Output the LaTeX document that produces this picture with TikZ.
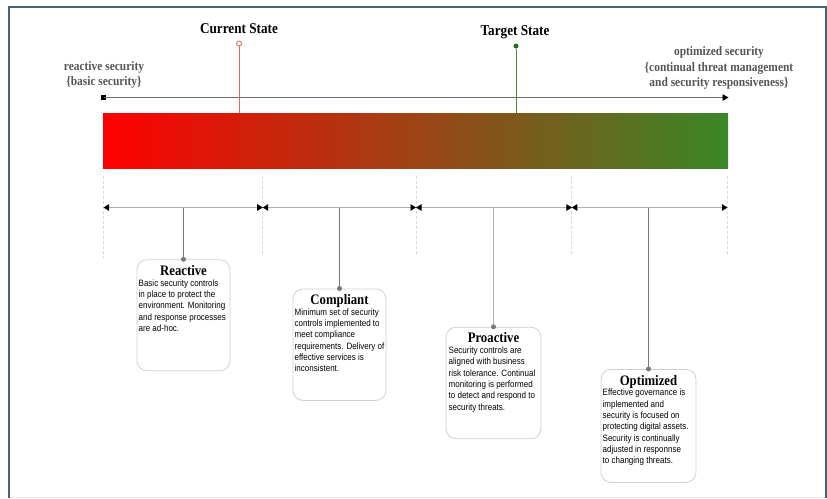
\documentclass[tikz,border=0pt]{standalone}
\usepackage{fontspec}
\setmainfont{Liberation Serif}
\newfontfamily\headfont[FakeStretch=0.88]{Liberation Serif}
\newfontfamily\bodyfont[FakeStretch=0.87]{Liberation Sans}
\usetikzlibrary{arrows.meta}

\newlength{\du}
\setlength{\du}{1\unitlength}

\definecolor{framecolor}{rgb}{0.290196, 0.384314, 0.454902}
\definecolor{barred}{rgb}{1.000000, 0.000000, 0.000000}
\definecolor{bargreen}{rgb}{0.227451, 0.529412, 0.156863}
\definecolor{labelgray}{rgb}{0.333333, 0.333333, 0.333333}
\definecolor{axisgray}{rgb}{0.431373, 0.431373, 0.431373}
\definecolor{spangray}{rgb}{0.690196, 0.690196, 0.690196}
\definecolor{guidegray}{rgb}{0.850980, 0.850980, 0.850980}
\definecolor{boxgray}{rgb}{0.815686, 0.815686, 0.815686}
\definecolor{pingray}{rgb}{0.470588, 0.470588, 0.470588}
\definecolor{currentred}{rgb}{0.941176, 0.376471, 0.376471}
\definecolor{targetgreen}{rgb}{0.286275, 0.560784, 0.231373}
\definecolor{targetdot}{rgb}{0.113725, 0.443137, 0.113725}

\tikzset{
  statetitle/.style={font=\headfont\bfseries\fontsize{15}{18}\selectfont, anchor=base, inner sep=0pt},
  endlabel/.style={font=\headfont\bfseries\fontsize{13}{15.5}\selectfont, text=labelgray, align=center, inner sep=0pt},
  stagebox/.style={draw=boxgray, line width=0.8\du, rounded corners=10\du, fill=white, anchor=north, inner sep=0pt},
  stagetitle/.style={font=\headfont\bfseries\fontsize{14.5}{17}\selectfont, anchor=base, inner sep=0pt},
  stagetext/.style={font=\bodyfont\fontsize{9.2}{11.3}\selectfont, align=left, anchor=north west, inner sep=0pt},
  pindot/.style={circle, fill=pingray, minimum size=5\du, inner sep=0pt},
  pinline/.style={draw=pingray, line width=1\du},
  spanline/.style={draw=spangray, line width=0.9\du, {Triangle[length=5.5pt,width=6.5pt,color=black]}-{Triangle[length=5.5pt,width=6.5pt,color=black]}},
  guide/.style={draw=guidegray, dash pattern=on 3\du off 2\du, line width=0.9\du},
}

\begin{document}
\begin{tikzpicture}
\pgftransformxscale{1.000000}
\pgftransformyscale{-1.000000}
\useasboundingbox (0.000000\du,0.000000\du) rectangle (827.000000\du,498.000000\du);
% frame
\draw[framecolor, line width=2.300000\du] (9.000000\du,498.000000\du)--(9.000000\du,7.000000\du)--(826.000000\du,7.000000\du)--(826.000000\du,498.000000\du);
\draw[guidegray!60, line width=1.000000\du] (10.000000\du,497.500000\du)--(825.000000\du,497.500000\du);
% maturity axis
\coordinate (axisend) at (728.500000\du,97.500000\du);
\node[fill=black, minimum size=5\du, inner sep=0pt] (axisstart) at (103.500000\du,97.500000\du) {};
\draw[axisgray, line width=0.900000\du, -{Triangle[length=6pt,width=6.5pt,color=black]}] (axisstart.center) -- (axisend);
\node[endlabel] (lowlabel) at (104.000000\du,75.000000\du) {reactive security\\\{basic security\}};
\node[endlabel] (highlabel) at (719.000000\du,68.000000\du) {optimized security\\\{continual threat management\\and security responsiveness\}};
% colour bar
\shade[left color=barred, right color=bargreen] (103.000000\du,113.000000\du) rectangle (728.000000\du,168.000000\du);
\coordinate (currentfoot) at (239.000000\du,113.000000\du);
\coordinate (targetfoot) at (516.000000\du,113.000000\du);
% current and target state
\node[circle, draw=currentred, fill=white, line width=0.8\du, minimum size=5\du, inner sep=0pt] (currentpin) at (239.000000\du,43.500000\du) {};
\draw[currentred, line width=1.000000\du] (currentpin) -- (currentfoot);
\node[statetitle] (currenttitle) at (239.000000\du,33.000000\du) {Current State};
\node[circle, fill=targetdot, minimum size=5\du, inner sep=0pt] (targetpin) at (516.000000\du,46.000000\du) {};
\draw[targetgreen, line width=1.000000\du] (targetpin) -- (targetfoot);
\node[statetitle] (targettitle) at (515.000000\du,35.000000\du) {Target State};
% stage limits
\coordinate (limitA) at (103.500000\du,207.500000\du);
\coordinate (limitB) at (262.700000\du,207.500000\du);
\coordinate (limitC) at (416.000000\du,207.500000\du);
\coordinate (limitD) at (571.800000\du,207.500000\du);
\coordinate (limitE) at (727.500000\du,207.500000\du);
\draw[guide] (103.500000\du,176.000000\du)--(103.500000\du,258.000000\du);
\draw[guide] (262.500000\du,176.000000\du)--(262.500000\du,254.000000\du);
\draw[guide] (416.000000\du,176.000000\du)--(416.000000\du,254.000000\du);
\draw[guide] (571.800000\du,176.000000\du)--(571.800000\du,254.000000\du);
\draw[guide] (727.500000\du,176.000000\du)--(727.500000\du,256.000000\du);
\draw[spanline] (limitA) -- (limitB);
\draw[spanline] (limitB) -- (limitC);
\draw[spanline] (limitC) -- (limitD);
\draw[spanline] (limitD) -- (limitE);
% reactive
\coordinate (reactivepin) at (183.500000\du,207.500000\du);
\node[stagebox, minimum width=93\du, minimum height=111\du] (reactivebox) at (183.500000\du,259.300000\du) {};
\draw[pinline] (reactivepin) -- (reactivebox.north);
\node[pindot] (reactivedot) at (reactivebox.north) {};
\node[stagetitle] (reactivetitle) at (183.500000\du,275.300000\du) {Reactive};
\node[stagetext] (reactivetext) at (138.500000\du,279.300000\du) {Basic security controls\\in place to protect the\\environment. Monitoring\\and response processes\\are ad-hoc.};
% compliant
\coordinate (compliantpin) at (339.500000\du,207.500000\du);
\node[stagebox, minimum width=93\du, minimum height=111.5\du] (compliantbox) at (339.500000\du,288.500000\du) {};
\draw[pinline] (compliantpin) -- (compliantbox.north);
\node[pindot] (compliantdot) at (compliantbox.north) {};
\node[stagetitle] (complianttitle) at (339.500000\du,304.500000\du) {Compliant};
\node[stagetext] (complianttext) at (294.500000\du,308.500000\du) {Minimum set of security\\controls implemented to\\meet compliance\\requirements. Delivery of\\effective services is\\inconsistent.};
% proactive
\coordinate (proactivepin) at (493.500000\du,207.500000\du);
\node[stagebox, minimum width=95\du, minimum height=111.5\du] (proactivebox) at (493.500000\du,326.800000\du) {};
\draw[pinline, draw=spangray] (proactivepin) -- (proactivebox.north);
\node[pindot] (proactivedot) at (proactivebox.north) {};
\node[stagetitle] (proactivetitle) at (493.500000\du,342.800000\du) {Proactive};
\node[stagetext] (proactivetext) at (448.500000\du,346.800000\du) {Security controls are\\aligned with business\\risk tolerance. Continual\\monitoring is performed\\to detect and respond to\\security threats.};
% optimized
\coordinate (optimizedpin) at (648.500000\du,207.500000\du);
\node[stagebox, minimum width=95\du, minimum height=113\du] (optimizedbox) at (648.500000\du,369.000000\du) {};
\draw[pinline] (optimizedpin) -- (optimizedbox.north);
\node[pindot] (optimizeddot) at (optimizedbox.north) {};
\node[stagetitle] (optimizedtitle) at (648.500000\du,385.000000\du) {Optimized};
\node[stagetext] (optimizedtext) at (602.500000\du,389.000000\du) {Effective governance is\\implemented and\\security is focused on\\protecting digital assets.\\Security is continually\\adjusted in responnse\\to changing threats.};
\end{tikzpicture}
\end{document}
